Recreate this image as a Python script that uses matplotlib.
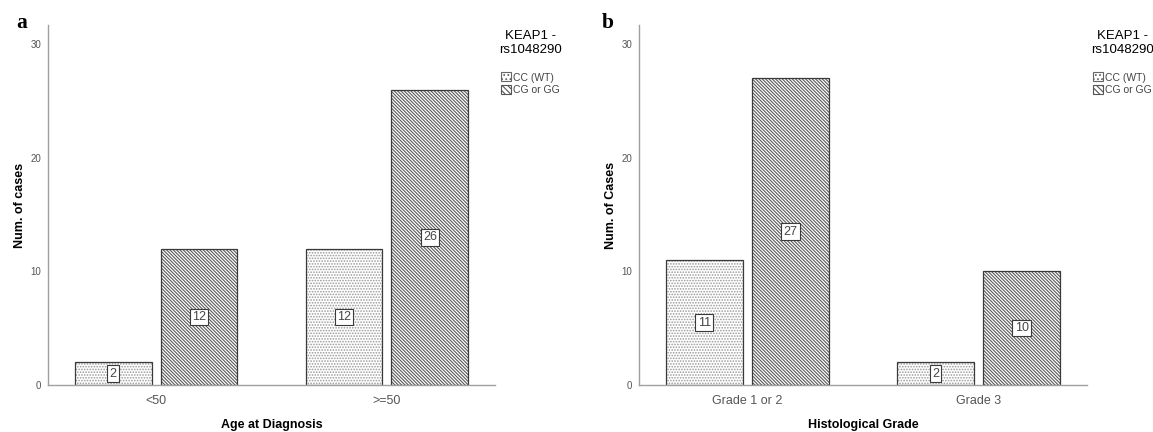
import matplotlib
matplotlib.use("Agg")
import matplotlib.pyplot as plt
import numpy as np
from matplotlib.patches import Patch

plt.rcParams['font.family'] = ['Liberation Sans', 'DejaVu Sans']
plt.rcParams['hatch.linewidth'] = 0.8

# data
age_groups = ["<50", ">=50"]
age_cc = [2, 12]
age_cg = [12, 26]

grade_groups = ["Grade 1 or 2", "Grade 3"]
grade_cc = [11, 2]
grade_cg = [27, 10]

series_names = ["CC (WT)", "CG or GG"]
legend_title = "KEAP1 -\nrs1048290"

W, H = 1153, 432
fig = plt.figure(figsize=(W / 100, H / 100), dpi=100)

hatch_cc = "......"
hatch_cg = "\\" * 10
edge_col = "#3a3a3a"


def panel(rect, groups, cc, cg, xlabel, ylabel, letter, letter_x, leg_x):
    ax = fig.add_axes(rect)
    x = np.arange(len(groups))
    w = 0.333
    off = 0.186
    for vals, dx, h, hc in [(cc, -off, hatch_cc, "#999999"),
                            (cg, off, hatch_cg, "#5a5a5a")]:
        ax.bar(x + dx, vals, w, color="white", edgecolor=hc,
               hatch=h, linewidth=0)
        ax.bar(x + dx, vals, w, fill=False, edgecolor=edge_col, linewidth=0.9)
        for xi, v in zip(x + dx, vals):
            ax.text(xi, v / 2, str(v), ha="center", va="center", fontsize=9,
                    color="#444444",
                    bbox=dict(boxstyle="square,pad=0.18", fc="white",
                              ec=edge_col, lw=0.8))
    ax.set_xlim(-0.468, 1.468)
    ax.set_ylim(0, 31.7)
    ax.set_yticks([0, 10, 20, 30])
    ax.set_xticks(x)
    ax.set_xticklabels(groups)
    for s in ["top", "right"]:
        ax.spines[s].set_visible(False)
    for s in ["left", "bottom"]:
        ax.spines[s].set_color("#a0a0a0")
        ax.spines[s].set_linewidth(1.0)
    ax.tick_params(axis="y", length=0, pad=5, labelsize=7, labelcolor="#555555")
    ax.tick_params(axis="x", length=0, pad=7, labelsize=9, labelcolor="#555555")
    ax.set_xlabel(xlabel, fontsize=9, fontweight="bold", labelpad=9)
    ax.set_ylabel(ylabel, fontsize=9, fontweight="bold", labelpad=3)

    fig.text(letter_x / W, 1 - 28 / H, letter, fontsize=15.5, fontweight="bold",
             family=["Liberation Serif", "DejaVu Serif"], ha="left", va="baseline")

    handles = [Patch(facecolor="white", edgecolor="#666666", hatch="....", lw=0.8),
               Patch(facecolor="white", edgecolor="#555555", hatch="\\" * 6, lw=0.8)]
    leg = ax.legend(handles, series_names, title=legend_title, loc="upper left",
                    bbox_to_anchor=(leg_x / W, 1 - 30 / H),
                    bbox_transform=fig.transFigure, frameon=False,
                    fontsize=7.5, title_fontsize=9.5, handlelength=0.95,
                    handleheight=0.95, handletextpad=0.2, labelspacing=0.2,
                    borderpad=0, borderaxespad=0)
    leg.get_title().set_multialignment("center")
    for t in leg.get_texts():
        t.set_color("#444444")
    leg._legend_box.sep = 12
    return ax


panel([48 / W, 47 / H, 447 / W, 360 / H], age_groups, age_cc, age_cg,
      "Age at Diagnosis", "Num. of cases", "a", 16, 499)
panel([639 / W, 47 / H, 448 / W, 360 / H], grade_groups, grade_cc, grade_cg,
      "Histological Grade", "Num. of Cases", "b", 602, 1091)

fig.savefig("out.png", dpi=100)
